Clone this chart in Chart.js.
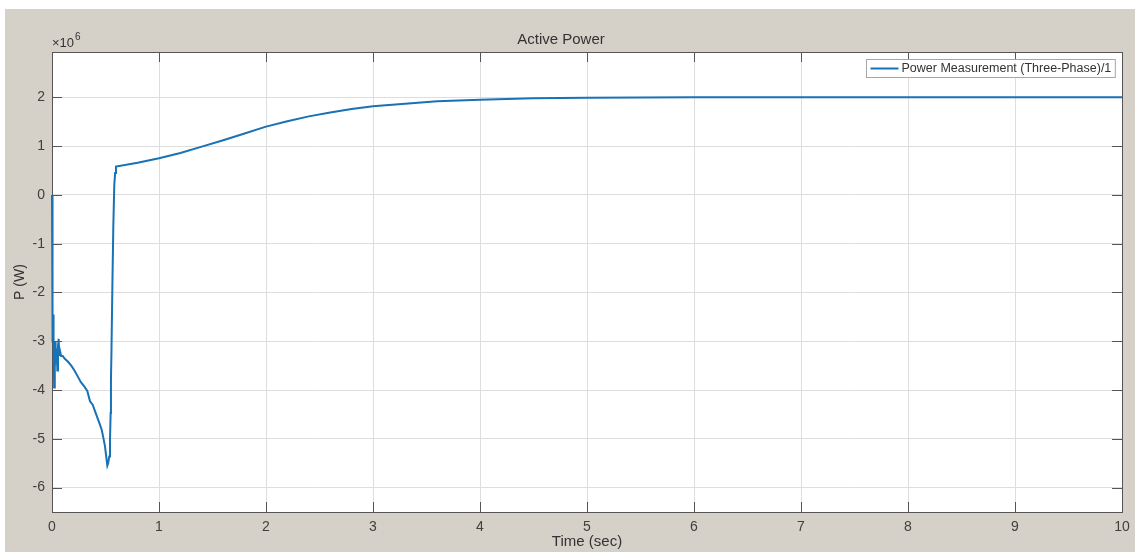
<!DOCTYPE html>
<html>
<head>
<meta charset="utf-8">
<title>Active Power</title>
<script src="https://cdn.jsdelivr.net/npm/chart.js@4.4.0/dist/chart.umd.min.js"></script>
<style>
  html, body { margin: 0; padding: 0; background: #fff; }
  #wrap { width: 1135px; height: 552px; }
</style>
</head>
<body>
<div id="wrap"><canvas id="powerChart" width="1135" height="552"></canvas></div>
<script>
// simulation time (sec)
const timeSec = [
  0, 0.002, 0.004, 0.006, 0.008, 0.010, 0.013, 0.016, 0.020, 0.024, 0.028, 0.033,
  0.038, 0.043, 0.050, 0.056, 0.062, 0.068, 0.075, 0.085, 0.10, 0.12,
  0.15, 0.18, 0.21, 0.24, 0.27, 0.30, 0.33, 0.355, 0.38, 0.40,
  0.43, 0.45, 0.465, 0.48, 0.495, 0.51, 0.517, 0.525, 0.535, 0.542,
  0.548, 0.551, 0.555, 0.564, 0.573, 0.582, 0.590, 0.598,
  0.8, 1.0, 1.2, 1.4, 1.6, 1.8, 2.0, 2.2, 2.4, 2.6,
  2.8, 3.0, 3.3, 3.6, 4.0, 4.5, 5.0, 6.0, 8.0, 10.0
];
// active power, x 1e6 W
const powerE6 = [
  0, -0.1, -1.3, -1.35, -2.85, -2.8, -2.45, -2.9, -3.95, -3.15, -3.55, -3.0,
  -3.45, -3.15, -3.6, -3.1, -2.95, -3.3, -3.2, -3.3, -3.3, -3.36,
  -3.42, -3.5, -3.6, -3.72, -3.84, -3.92, -4.02, -4.23, -4.3, -4.42,
  -4.6, -4.72, -4.82, -4.98, -5.15, -5.42, -5.55, -5.5, -5.36, -5.02,
  -4.47, -3.79, -3.31, -1.91, -0.65, 0.2, 0.45, 0.58,
  0.66, 0.75, 0.86, 0.99, 1.12, 1.26, 1.40, 1.51, 1.61, 1.69,
  1.76, 1.82, 1.87, 1.92, 1.95, 1.98, 1.99, 2.0, 2.0, 2.0
];
const xTicks = [0, 1, 2, 3, 4, 5, 6, 7, 8, 9, 10];
const yTicks = [-6, -5, -4, -3, -2, -1, 0, 1, 2];
const seriesLabel = 'Power Measurement (Three-Phase)/1';

const lineColor = '#1872b6';
const figGray = '#d5d1c9';
const textColor = '#333333';

Chart.defaults.font.family = "'Liberation Sans', Arial, sans-serif";

const points = timeSec.map((t, i) => ({ x: t, y: powerE6[i] }));

// matlab style figure: gray background, box with inner ticks, legend box, exponent
const matlabFrame = {
  id: 'matlabFrame',
  beforeDraw(chart) {
    const { ctx, chartArea: a, width, height } = chart;
    ctx.save();
    ctx.fillStyle = figGray;
    ctx.fillRect(0, 0, width, height);
    ctx.fillStyle = '#fff';
    ctx.fillRect(0, 0, width, 9);
    ctx.fillRect(0, 0, 5, height);
    ctx.fillRect(a.left, a.top, a.right - a.left, a.bottom - a.top);
    ctx.restore();
  },
  beforeDatasetsDraw(chart) {
    const { ctx, chartArea: a, scales } = chart;
    ctx.save();
    ctx.strokeStyle = '#555';
    ctx.lineWidth = 1;
    ctx.beginPath();
    xTicks.forEach(v => {
      const px = Math.round(scales.x.getPixelForValue(v)) + 0.5;
      ctx.moveTo(px, a.bottom); ctx.lineTo(px, a.bottom - 10);
      ctx.moveTo(px, a.top); ctx.lineTo(px, a.top + 10);
    });
    yTicks.forEach(v => {
      const py = Math.round(scales.y.getPixelForValue(v)) + 0.5;
      ctx.moveTo(a.left, py); ctx.lineTo(a.left + 10, py);
      ctx.moveTo(a.right, py); ctx.lineTo(a.right - 10, py);
    });
    ctx.stroke();
    ctx.strokeRect(Math.round(a.left) + 0.5, Math.round(a.top) + 0.5,
      Math.round(a.right - a.left), Math.round(a.bottom - a.top));
    ctx.restore();
  },
  afterDraw(chart) {
    const { ctx, chartArea: a } = chart;
    ctx.save();
    // exponent label
    ctx.fillStyle = textColor;
    ctx.textBaseline = 'middle';
    ctx.textAlign = 'left';
    ctx.font = "13px 'Liberation Sans', Arial, sans-serif";
    ctx.fillText('\u00d710', a.left, a.top - 9);
    const w10 = ctx.measureText('\u00d710').width;
    ctx.font = "10px 'Liberation Sans', Arial, sans-serif";
    ctx.fillText('6', a.left + w10 + 1, a.top - 15);

    // legend
    ctx.font = "12.5px 'Liberation Sans', Arial, sans-serif";
    const tw = ctx.measureText(seriesLabel).width;
    const bw = 35 + tw + 4;
    const bx = Math.round(a.right - 7 - bw) + 0.5;
    const by = Math.round(a.top + 7) + 0.5;
    const bh = 18;
    ctx.fillStyle = '#fff';
    ctx.fillRect(bx, by, bw, bh);
    ctx.strokeStyle = '#a6a6a6';
    ctx.lineWidth = 1;
    ctx.strokeRect(bx, by, bw, bh);
    ctx.strokeStyle = lineColor;
    ctx.lineWidth = 2;
    ctx.beginPath();
    ctx.moveTo(bx + 4, by + bh / 2);
    ctx.lineTo(bx + 32, by + bh / 2);
    ctx.stroke();
    ctx.fillStyle = textColor;
    ctx.fillText(seriesLabel, bx + 35, by + bh / 2 + 0.5);
    ctx.restore();
  }
};

const ctx = document.getElementById('powerChart').getContext('2d');
const powerChart = new Chart(ctx, {
  type: 'line',
  data: {
    datasets: [{
      label: seriesLabel,
      data: points,
      borderColor: lineColor,
      borderWidth: 2,
      pointRadius: 0,
      tension: 0,
      fill: false,
      clip: { left: 3, top: 0, right: 0, bottom: 0 }
    }]
  },
  options: {
    responsive: false,
    animation: false,
    devicePixelRatio: 1,
    layout: { padding: { top: 0, right: 13, bottom: 0, left: 0 } },
    plugins: {
      legend: { display: false },
      tooltip: { enabled: false },
      title: {
        display: true,
        text: 'Active Power',
        color: textColor,
        font: { size: 15, weight: 'normal' },
        padding: { top: 31, bottom: 3 }
      }
    },
    scales: {
      x: {
        type: 'linear',
        min: 0,
        max: 10,
        afterBuildTicks: s => { s.ticks = xTicks.map(v => ({ value: v })); },
        afterFit: s => { s.height = 40; },
        grid: { color: '#dedede', drawTicks: false },
        border: { display: false },
        ticks: { padding: 4, color: '#404040', font: { size: 14, lineHeight: 1.55 }, maxRotation: 0 },
        title: {
          display: true,
          text: 'Time (sec)',
          color: textColor,
          font: { size: 15 },
          padding: { top: 0, bottom: 1 }
        }
      },
      y: {
        type: 'linear',
        min: -6.5,
        max: 2.93,
        afterBuildTicks: s => { s.ticks = yTicks.map(v => ({ value: v })); },
        afterFit: s => { s.width = 52; },
        grid: { color: '#dedede', drawTicks: false },
        border: { display: false },
        ticks: { padding: 7, color: '#404040', font: { size: 14 } },
        title: {
          display: true,
          text: 'P (W)',
          color: textColor,
          font: { size: 14 },
          padding: { top: 12, bottom: 0 }
        }
      }
    }
  },
  plugins: [matlabFrame]
});
</script>
</body>
</html>
